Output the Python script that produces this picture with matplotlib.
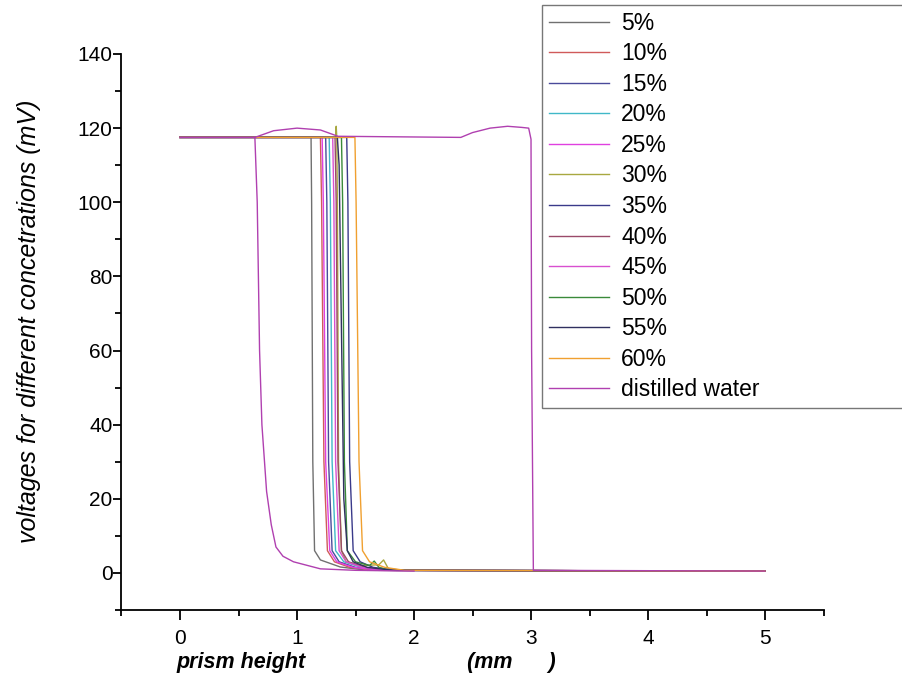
import numpy as np
import matplotlib
matplotlib.use("Agg")
import matplotlib.pyplot as plt
from matplotlib.ticker import MultipleLocator

plt.rcParams['font.family'] = ['Liberation Sans', 'DejaVu Sans']

labels = ['5%', '10%', '15%', '20%', '25%', '30%', '35%', '40%', '45%',
          '50%', '55%', '60%', 'distilled water']
colors = ['#707070', '#d05a5a', '#4a4a9a', '#40b8c8', '#e040e0', '#a8a840',
          '#3a3a8a', '#9a4a6a', '#d850d0', '#3a8a3a', '#303060', '#f0a030',
          '#b040b0']

# key points (x in mm, y in mV)
x5 = [0, 1.12, 1.125, 1.135, 1.15, 1.20, 1.37, 1.60, 5.0]
y5 = [117.5, 117.5, 100, 30, 6, 3.5, 1.6, 0.7, 0.5]
x10 = [0, 1.200, 1.210, 1.230, 1.26, 1.32, 1.45, 1.70, 5.0]
y10 = [117.5, 117.5, 100, 30, 6, 3, 1.5, 0.7, 0.5]
x15 = [0, 1.245, 1.255, 1.270, 1.30, 1.36, 1.50, 1.75, 5.0]
y15 = [117.5, 117.5, 100, 30, 6, 3, 1.5, 0.7, 0.5]
x20 = [0, 1.275, 1.285, 1.300, 1.33, 1.40, 1.55, 1.80, 5.0]
y20 = [117.5, 117.5, 100, 30, 6, 3, 1.5, 0.7, 0.5]
x25 = [0, 1.215, 1.225, 1.245, 1.28, 1.34, 1.48, 1.72, 5.0]
y25 = [117.5, 117.5, 100, 30, 6, 3, 1.5, 0.7, 0.5]
x30 = [0, 1.330, 1.335, 1.340, 1.345, 1.355, 1.38, 1.42, 1.55, 1.70, 1.74, 1.78, 1.90, 5.0]
y30 = [117.5, 117.5, 120.5, 117.5, 100, 30, 6, 3, 2.0, 2.2, 3.5, 1.2, 0.7, 0.5]
x35 = [0, 1.425, 1.435, 1.450, 1.48, 1.54, 1.65, 1.85, 5.0]
y35 = [117.5, 117.5, 100, 30, 6, 3, 1.5, 0.7, 0.5]
x40 = [0, 1.325, 1.335, 1.350, 1.38, 1.44, 1.58, 1.80, 5.0]
y40 = [117.5, 117.5, 100, 30, 6, 3, 1.5, 0.7, 0.5]
x45 = [0, 1.305, 1.315, 1.330, 1.36, 1.42, 1.56, 1.78, 5.0]
y45 = [117.5, 117.5, 100, 30, 6, 3, 1.5, 0.7, 0.5]
x50 = [0, 1.380, 1.390, 1.405, 1.43, 1.50, 1.62, 1.66, 1.70, 1.80, 5.0]
y50 = [117.5, 117.5, 100, 30, 6, 3, 2.0, 3.2, 1.5, 0.7, 0.5]
x55 = [0, 1.345, 1.360, 1.400, 1.43, 1.48, 1.60, 1.82, 5.0]
y55 = [117.5, 117.5, 110, 20, 6, 3, 1.5, 0.7, 0.5]
x60 = [0, 1.495, 1.505, 1.530, 1.56, 1.62, 1.75, 1.92, 5.0]
y60 = [117.5, 117.5, 100, 30, 6, 3, 1.5, 0.7, 0.5]
# distilled water: drop branch, then (nan break) the upper branch out to 3 mm
xw = [0, 0.64, 0.66, 0.68, 0.70, 0.74, 0.78, 0.82, 0.88, 0.97, 1.20, 1.50, 2.0,
      np.nan,
      0.64, 0.80, 1.00, 1.20, 1.35, 2.40, 2.50, 2.65, 2.80, 2.92, 2.98, 3.00, 3.005, 3.02, 5.0]
yw = [117.5, 117.5, 100, 60, 40, 22, 13, 7, 4.5, 3.0, 1.1, 0.7, 0.5,
      np.nan,
      117.5, 119.3, 120.0, 119.5, 117.8, 117.5, 118.8, 120.0, 120.5, 120.2, 120.0, 117, 60, 0.7, 0.5]

series_x = [x5, x10, x15, x20, x25, x30, x35, x40, x45, x50, x55, x60, xw]
series_y = [y5, y10, y15, y20, y25, y30, y35, y40, y45, y50, y55, y60, yw]

fig = plt.figure(figsize=(9.02, 6.87), dpi=100)
ax = fig.add_axes([0.1347, 0.1121, 0.7783, 0.8093])

for xs, ys, lab, c in zip(series_x, series_y, labels, colors):
    ax.plot(xs, ys, color=c, lw=1.0, label=lab)

ax.set_xlim(-0.5, 5.5)
ax.set_ylim(-10, 140)
ax.spines['top'].set_visible(False)
ax.spines['right'].set_visible(False)
ax.spines['left'].set_linewidth(1.3)
ax.spines['bottom'].set_linewidth(1.3)
ax.xaxis.set_major_locator(MultipleLocator(1))
ax.xaxis.set_minor_locator(MultipleLocator(0.5))
ax.yaxis.set_major_locator(MultipleLocator(20))
ax.yaxis.set_minor_locator(MultipleLocator(10))
ax.tick_params(which='major', direction='out', length=7, width=1.3, labelsize=15)
ax.tick_params(axis='y', which='major', length=6, pad=0.5)
ax.tick_params(axis='x', which='major', pad=7)
ax.tick_params(which='minor', direction='out', length=4, width=1.3)
ax.set_xticks([0, 1, 2, 3, 4, 5])

ax.set_ylabel('voltages for different concetrations (mV)', fontsize=18, style='italic')
ax.yaxis.set_label_coords(-0.115, 0.52)
ax.set_xlabel('prism height                           (mm      )', fontsize=15.5,
              style='italic', weight='bold', ha='left')
ax.xaxis.set_label_coords(0.079, -0.075)

leg = fig.legend(loc='upper left', bbox_to_anchor=(0.601, 0.405, 0.42, 0.588),
                 mode='expand', fontsize=16.5, frameon=True, fancybox=False,
                 edgecolor='#555555', handlelength=2.6, handletextpad=0.55,
                 labelspacing=0.33, borderpad=0.3, borderaxespad=0)
leg.get_frame().set_linewidth(1.0)
for line in leg.get_lines():
    line.set_linewidth(1.0)

fig.savefig('out.png', dpi=100)
